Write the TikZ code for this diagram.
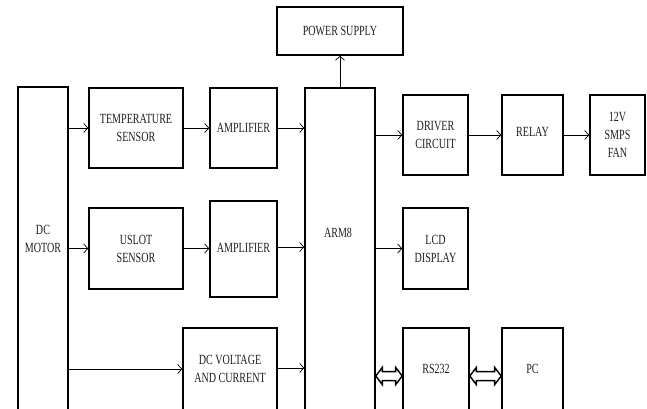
\documentclass[tikz,border=0pt]{standalone}
\usepackage{fontspec}
\setmainfont{Liberation Serif}[FakeStretch=0.72]
\usetikzlibrary{arrows.meta,calc}
\begin{document}
\begin{tikzpicture}[x=1pt,y=-1pt,
  box/.style={draw=black, line width=1.6pt, inner sep=0pt, align=center,
    text=black!88, font=\fontsize{14}{18}\selectfont},
  conn/.style={draw=black, line width=0.7pt, -{Straight Barb[length=4pt,width=9pt]}},
  dblarrow/.style={draw=black, line width=1.5pt, line join=miter},
  lbl/.style={align=center, text=black!88, font=\fontsize{14}{18}\selectfont}]
\useasboundingbox (0,0) rectangle (647,408);
% boxes
\node[box, minimum width=50pt, minimum height=323pt,
  label={[lbl, yshift=9.5pt]center:DC\\MOTOR}] (dcm) at (43,248.5) {};
\node[box, minimum width=94pt, minimum height=80pt] (temp) at (136,128) {TEMPERATURE\\SENSOR};
\node[box, minimum width=67pt, minimum height=80pt] (amp1) at (243.5,128) {AMPLIFIER};
\node[box, minimum width=70pt, minimum height=322pt,
  label={[lbl, yshift=16pt, xshift=-2pt]center:ARM8}] (arm) at (340,249) {};
\node[box, minimum width=126pt, minimum height=48pt] (ps) at (340,31) {POWER SUPPLY};
\node[box, minimum width=65pt, minimum height=80pt] (drv) at (435.5,135) {DRIVER\\CIRCUIT};
\node[box, minimum width=61pt, minimum height=80pt] (relay) at (532.5,135) {\raisebox{7pt}{RELAY}};
\node[box, minimum width=55pt, minimum height=80pt] (fan) at (617.5,135) {12V\\SMPS\\FAN};
\node[box, minimum width=94pt, minimum height=81pt] (uslot) at (136,248.5) {USLOT\\SENSOR};
\node[box, minimum width=67pt, minimum height=96pt] (amp2) at (243.5,249) {\raisebox{2pt}{AMPLIFIER}};
\node[box, minimum width=65pt, minimum height=81pt] (lcd) at (435.5,248.5) {LCD\\DISPLAY};
\node[box, minimum width=94pt, minimum height=82pt] (dcv) at (230,369) {DC VOLTAGE\\AND CURRENT};
\node[box, minimum width=66pt, minimum height=82pt] (rs) at (436,369) {RS232};
\node[box, minimum width=61pt, minimum height=82pt] (pc) at (532.5,369) {PC};
% connectors
\draw[conn] (dcm.east |- temp.west) -- (temp.west);
\draw[conn] (temp.east) -- (temp.east -| amp1.west);
\draw[conn] (amp1.east) -- (amp1.east -| arm.west);
\draw[conn] (arm.north) -- (ps.south);
\draw[conn] (drv.west -| arm.east) -- (drv.west);
\draw[conn] (drv.east) -- (relay.west);
\draw[conn] (relay.east) -- (fan.west);
\draw[conn] (uslot.west -| dcm.east) -- (uslot.west);
\draw[conn] (uslot.east) -- (uslot.east -| amp2.west);
\draw[conn] ([yshift=2pt]amp2.east) -- ([yshift=2pt]amp2.east -| arm.west);
\draw[conn] (lcd.west -| arm.east) -- (lcd.west);
\draw[conn] (dcv.west -| dcm.east) -- (dcv.west);
\draw[conn] ([yshift=1pt]dcv.east) -- ([yshift=1pt]dcv.east -| arm.west);
% double-headed block arrows
\draw[dblarrow] let \p1=([yshift=-7pt]rs.west -| arm.east), \p2=([yshift=-7pt]rs.west),
  \n1={\x2-\x1-13} in
  (\p1) -- ++(6.5,-8.5) -- ++(0,4) -- ++(\n1,0) -- ++(0,-4) -- ++(6.5,8.5)
  -- ++(-6.5,8.5) -- ++(0,-4) -- ++(-\n1,0) -- ++(0,4) -- cycle;
\draw[dblarrow] let \p1=([yshift=-7pt]rs.east), \p2=([yshift=-7pt]pc.west),
  \n1={\x2-\x1-13} in
  (\p1) -- ++(6.5,-8.5) -- ++(0,4) -- ++(\n1,0) -- ++(0,-4) -- ++(6.5,8.5)
  -- ++(-6.5,8.5) -- ++(0,-4) -- ++(-\n1,0) -- ++(0,4) -- cycle;
\end{tikzpicture}
\end{document}
